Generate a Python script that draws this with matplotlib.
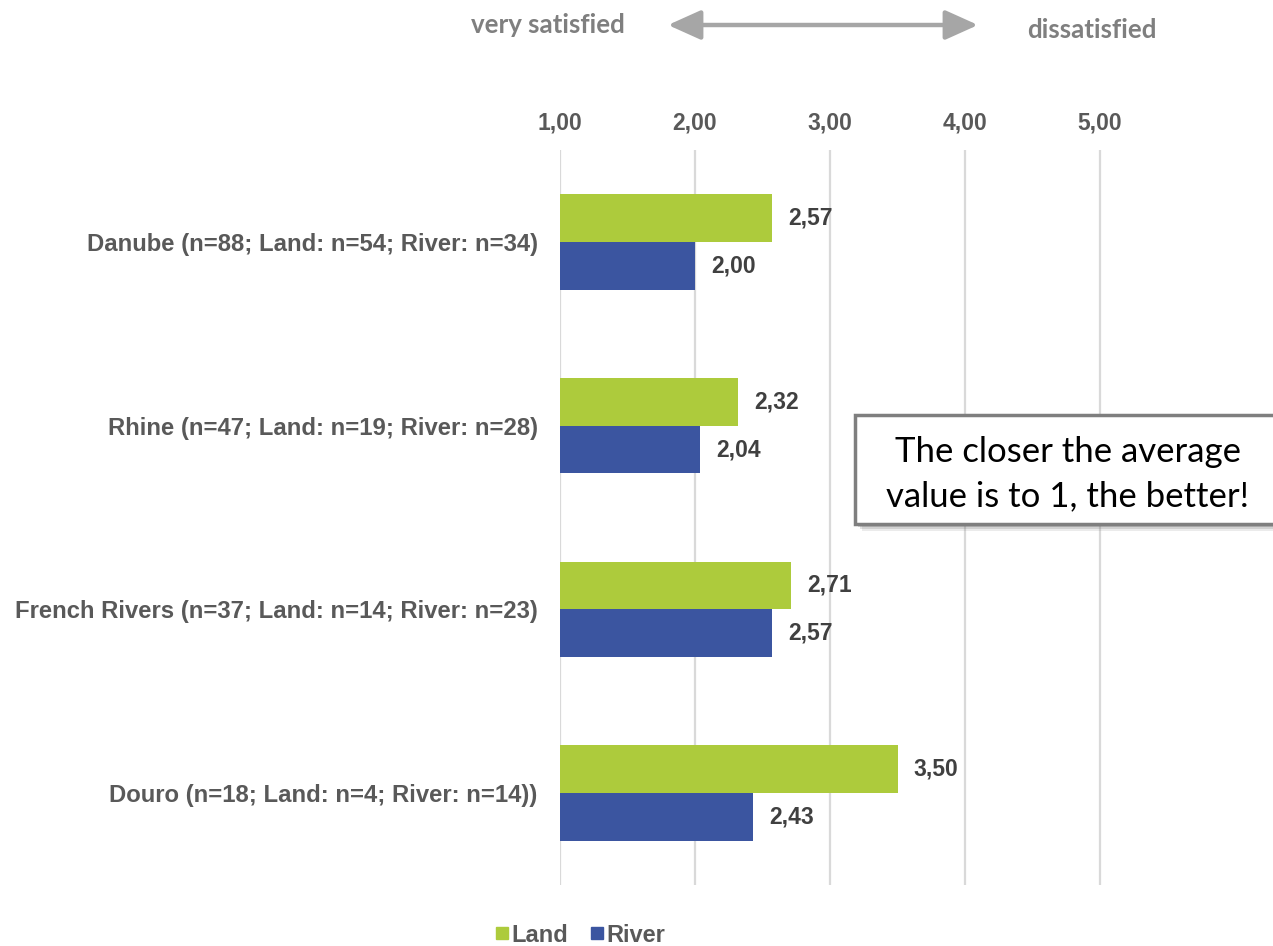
import matplotlib.pyplot as plt
from matplotlib.patches import Rectangle, FancyArrowPatch
from matplotlib.lines import Line2D

categories = ["Danube (n=88; Land: n=54; River: n=34)",
              "Rhine (n=47; Land: n=19; River: n=28)",
              "French Rivers (n=37; Land: n=14; River: n=23)",
              "Douro (n=18; Land: n=4; River: n=14))"]
land = [2.57, 2.32, 2.71, 3.50]
river = [2.00, 2.04, 2.57, 2.43]
ticks = [1, 2, 3, 4, 5]

GREEN = "#adcb3c"
BLUE = "#3b55a0"
GREY = "#595959"
DARK = "#404040"
FS = 16.5

plt.rcParams['font.family'] = ['Liberation Sans', 'DejaVu Sans']

fig = plt.figure(figsize=(12.73, 9.46), dpi=100)
ax = fig.add_axes([560 / 1273, 1 - 885 / 946, 675 / 1273, 735 / 946])

h = 0.26
y = list(range(len(categories)))
ax.barh([i - h / 2 for i in y], [v - 1 for v in land], left=1, height=h, color=GREEN, zorder=3)
ax.barh([i + h / 2 for i in y], [v - 1 for v in river], left=1, height=h, color=BLUE, zorder=3)

def fmt(v):
    return f"{v:.2f}".replace(".", ",")

for i in y:
    ax.text(land[i] + 0.12, i - h / 2, fmt(land[i]), va='center', ha='left',
            fontsize=FS, fontweight='bold', color=DARK)
    ax.text(river[i] + 0.12, i + h / 2, fmt(river[i]), va='center', ha='left',
            fontsize=FS, fontweight='bold', color=DARK)

ax.set_xlim(1, 6)
ax.set_ylim(3.5, -0.5)
ax.set_xticks(ticks)
ax.set_xticklabels([fmt(t) for t in ticks], fontsize=FS, fontweight='bold', color=GREY)
ax.xaxis.tick_top()
ax.tick_params(axis='x', length=0, pad=11)
ax.set_yticks(y)
ax.set_yticklabels(categories, fontsize=17.2, fontweight='bold', color=GREY)
ax.tick_params(axis='y', length=0, pad=16)
ax.grid(axis='x', color='#d9d9d9', linewidth=1.6, zorder=0)
for s in ax.spines.values():
    s.set_visible(False)

# scale direction hint above the axis
fig.text(548 / 1273, 1 - 25 / 946, "very satisfied", ha='center', va='center',
         fontsize=18.6, fontweight='bold', color='#7f7f7f', family=['Lato', 'DejaVu Sans'])
fig.text(1092 / 1273, 1 - 30 / 946, "dissatisfied", ha='center', va='center',
         fontsize=18.6, fontweight='bold', color='#7f7f7f', family=['Lato', 'DejaVu Sans'])
arrow = FancyArrowPatch((668 / 1273, 1 - 25 / 946), (978 / 1273, 1 - 25 / 946),
                        transform=fig.transFigure, arrowstyle='<|-|>,head_length=2.0,head_width=0.9',
                        mutation_scale=10, color='#a6a6a6', linewidth=3.2,
                        shrinkA=0, shrinkB=0)
fig.patches.append(arrow)

# callout box with drop shadow
bx, by, bw, bh = 855 / 1273, 1 - 524 / 946, 0.4, 109 / 946
for k, a in enumerate([0.12, 0.18, 0.25]):
    off = 7 - 2 * k
    fig.patches.append(Rectangle((bx + off / 1273, by - off / 946), bw, bh,
                                 transform=fig.transFigure, facecolor='#606060',
                                 edgecolor='none', alpha=a, zorder=4))
box = Rectangle((bx, by), bw, bh, transform=fig.transFigure,
                facecolor='white', edgecolor='#7f7f7f', linewidth=2.5, zorder=5)
fig.patches.append(box)
fig.text(1068 / 1273, 1 - 474 / 946, "The closer the average\nvalue is to 1, the better!",
         ha='center', va='center', fontsize=25, family=['Lato', 'DejaVu Sans'],
         color='black', linespacing=1.48, zorder=6)

handles = [Line2D([], [], marker='s', linestyle='none', markersize=8, color=GREEN),
           Line2D([], [], marker='s', linestyle='none', markersize=8, color=BLUE)]
leg = fig.legend(handles, ["Land", "River"], loc='center', bbox_to_anchor=(580 / 1273, 1 - 935 / 946),
                 ncol=2, frameon=False, handlelength=0.6, handletextpad=0.1, columnspacing=0.95,
                 prop={'size': 17, 'weight': 'bold'})
for t in leg.get_texts():
    t.set_color(GREY)

fig.savefig("out.png", dpi=100)
